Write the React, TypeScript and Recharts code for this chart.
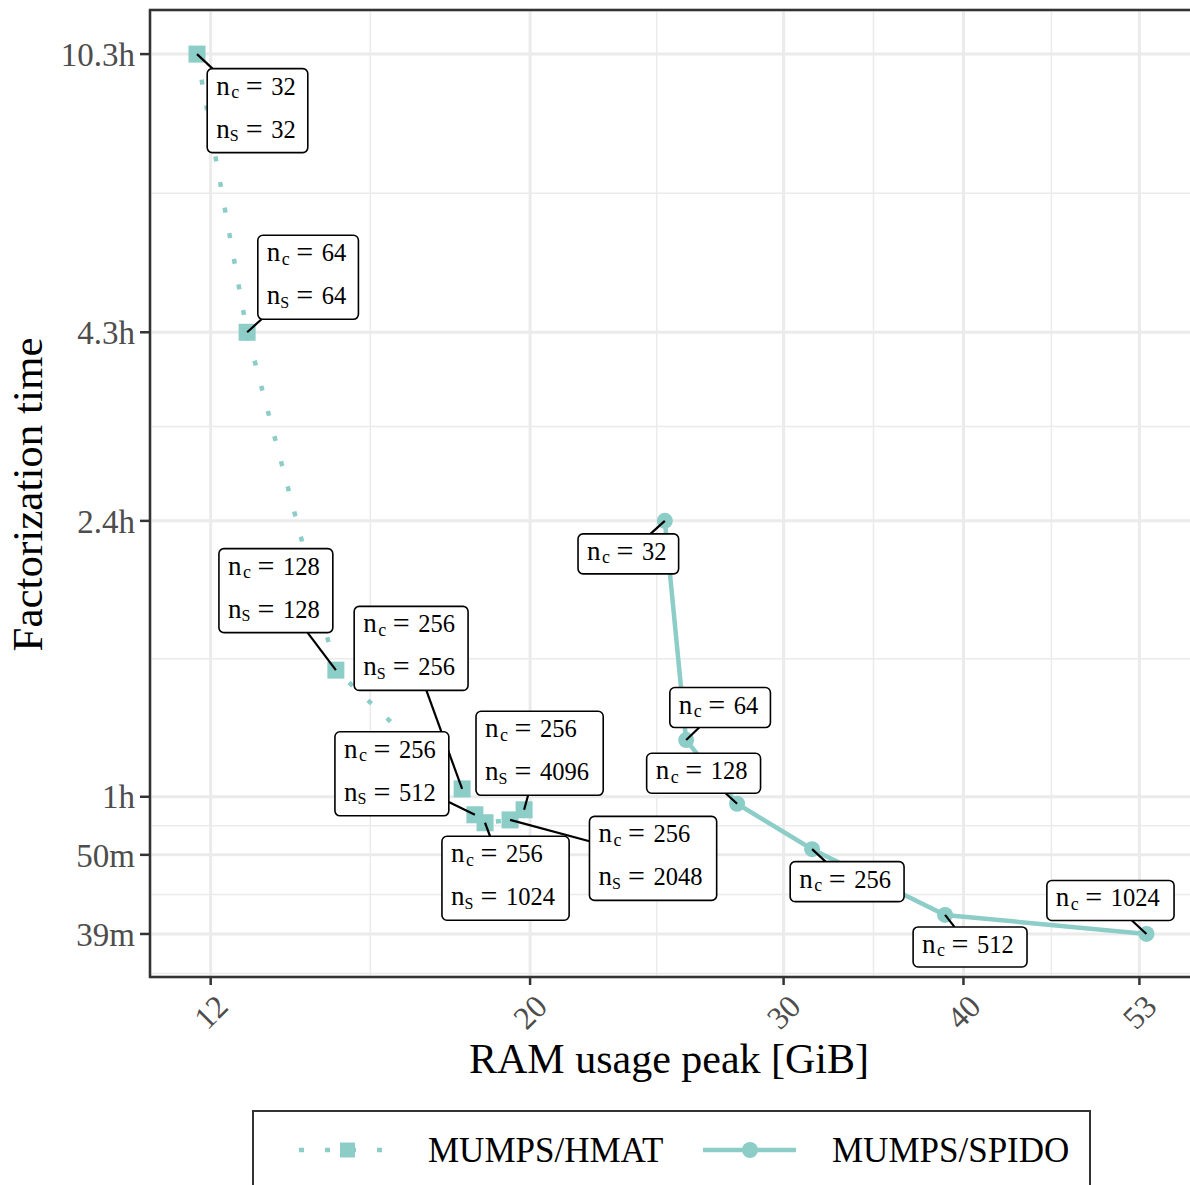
import React from "react";
import {
  LineChart,
  Line,
  XAxis,
  YAxis,
  CartesianGrid,
  ReferenceArea,
  ReferenceLine,
  LabelList,
  Legend,
  Label,
} from "recharts";

const TEAL = "#8CCDC8";
const FONT = '"Liberation Serif", "Times New Roman", serif';

// MUMPS/HMAT runs: RAM peak (GiB), factorization time (minutes)
const hmatRam = [11.74, 12.72, 14.66, 17.94, 18.31, 18.61, 19.37, 19.81];
const hmatTime = [618, 258, 89.3, 61.5, 56.7, 55.3, 55.8, 57.6];
const hmatNc = [32, 64, 128, 256, 256, 256, 256, 256];
const hmatNs = [32, 64, 128, 256, 512, 1024, 2048, 4096];

// MUMPS/SPIDO runs
const spidoRam = [24.81, 25.67, 27.85, 31.4, 38.84, 53.6];
const spidoTime = [142.7, 71.7, 58.7, 50.9, 41.4, 39];
const spidoNc = [32, 64, 128, 256, 512, 1024];

const xTicks = [12, 20, 30, 40, 53];
const xMinor = [15.49, 24.49, 34.64, 46.04];
const yTicks = [39, 50, 60, 142.7, 258, 618];
const yTickLabels = ["39m", "50m", "1h", "2.4h", "4.3h", "10.3h"];
const yMinor = [34.44, 44.16, 54.77, 92.53, 191.9, 399.3];

const xDomain = [10.89, 57.65];
const yDomain = [34.07, 709.8];

// where each label box sits relative to its point (px), repel-style
const hmatLabelOffsets = [
  [60.5, 56.5],
  [61, -55],
  [-60, -79.5],
  [-51, -140.5],
  [-83, -41],
  [20.5, 55.5],
  [143, 38.5],
  [15.5, -56.5],
];
const spidoLabelOffsets = [
  [-36.5, 33],
  [34, -32.5],
  [-33.5, -30.5],
  [35, 32.5],
  [25, 32],
  [-36, -33.5],
];

const hmatData = hmatRam.map((ram, i) => ({ ram, time: hmatTime[i], i }));
const spidoData = spidoRam.map((ram, i) => ({ ram, time: spidoTime[i], i }));

const BoxLabel = (props: any) => {
  const { kind } = props;
  const idx = Number(props.value);
  const vb = props.viewBox || {};
  const px = vb.x ?? props.x;
  const py = vb.y ?? props.y;
  if (px == null || py == null || isNaN(idx)) return null;

  const lines: [string, number][] =
    kind === "hmat"
      ? [
          ["c", hmatNc[idx]],
          ["S", hmatNs[idx]],
        ]
      : [["c", spidoNc[idx]]];
  const off = kind === "hmat" ? hmatLabelOffsets[idx] : spidoLabelOffsets[idx];
  const digits = Math.max(...lines.map((l) => String(l[1]).length));
  const w = 74 + 13.3 * digits;
  const h = 40 + 44 * (lines.length - 1);
  const cx = px + off[0];
  const cy = py + off[1];
  const left = cx - w / 2;
  const top = cy - h / 2;

  // segment from point to the box edge, along the line to the box centre
  const dx = px - cx;
  const dy = py - cy;
  const s = Math.min(
    w / 2 / Math.max(Math.abs(dx), 1e-6),
    h / 2 / Math.max(Math.abs(dy), 1e-6)
  );
  const ex = cx + dx * s;
  const ey = cy + dy * s;
  const txt = { fontFamily: FONT, fill: "#000" };

  return (
    <g>
      {s < 1 && (
        <line x1={px} y1={py} x2={ex} y2={ey} stroke="#000" strokeWidth={2.2} />
      )}
      <rect
        x={left}
        y={top}
        width={w}
        height={h}
        rx={5}
        ry={5}
        fill="#fff"
        stroke="#000"
        strokeWidth={1.6}
      />
      {lines.map(([sub, num], k) => {
        const base = top + 26 + 43 * k;
        const x0 = left + 9;
        return (
          <g key={k}>
            <text x={x0} y={base} fontSize={27} style={txt}>
              n
            </text>
            <text
              x={x0 + (sub === "c" ? 15 : 13.5)}
              y={base + 3.5}
              fontSize={sub === "c" ? 18 : 16}
              style={txt}
            >
              {sub}
            </text>
            <text x={x0 + 29.5} y={base + 1} fontSize={30} style={txt}>
              =
            </text>
            <text x={x0 + 55} y={base} fontSize={24.5} style={txt}>
              {num}
            </text>
          </g>
        );
      })}
    </g>
  );
};

const SquareDot = (props: any) => {
  const { cx, cy, index } = props;
  if (cx == null || cy == null) return <g key={`sq-${index}`} />;
  return (
    <rect key={`sq-${index}`} x={cx - 8.5} y={cy - 8.5} width={17} height={17} fill={TEAL} />
  );
};

const XTick = (props: any) => {
  const { x, y, payload } = props;
  return (
    <text
      transform={`translate(${x},${y + 25}) rotate(-45)`}
      textAnchor="middle"
      dominantBaseline="central"
      fontSize={32}
      fontFamily={FONT}
      fill="#4D4D4D"
    >
      {payload.value}
    </text>
  );
};

const XTitle = (props: any) => {
  const vb = props.viewBox || {};
  return (
    <text
      x={vb.x + vb.width / 2 - 2}
      y={vb.y + 96}
      textAnchor="middle"
      fontSize={42}
      fontFamily={FONT}
      fill="#000"
    >
      RAM usage peak [GiB]
    </text>
  );
};

const YTitle = (props: any) => {
  const vb = props.viewBox || {};
  const cy = vb.y + vb.height / 2 + 1;
  return (
    <text
      transform={`translate(42,${cy}) rotate(-90)`}
      textAnchor="middle"
      fontSize={43}
      fontFamily={FONT}
      fill="#000"
    >
      Factorization time
    </text>
  );
};

const LegendBox = () => (
  <svg width={839} height={90} style={{ display: "block", overflow: "visible" }}>
    <rect x={1} y={1} width={837} height={120} fill="#fff" stroke="#333" strokeWidth={2} />
    <line x1={47} y1={40} x2={131} y2={40} stroke={TEAL} strokeWidth={4.5} strokeDasharray="5 21" />
    <rect x={88} y={32.5} width={15} height={15} fill={TEAL} />
    <text x={176} y={52} fontSize={35} fontFamily={FONT} fill="#000">
      MUMPS/HMAT
    </text>
    <line x1={451} y1={40} x2={544} y2={40} stroke={TEAL} strokeWidth={4.5} />
    <circle cx={498} cy={40} r={8} fill={TEAL} />
    <text x={580} y={52} fontSize={35} fontFamily={FONT} fill="#000">
      MUMPS/SPIDO
    </text>
  </svg>
);

const App: React.FC = () => {
  return (
    <div
      style={{
        position: "absolute",
        left: 0,
        top: 0,
        width: 1190,
        height: 1185,
        overflow: "hidden",
        background: "#fff",
      }}
    >
      <LineChart width={1200} height={1200} margin={{ top: 10, right: 8, bottom: 123, left: 0 }}>
        <CartesianGrid stroke="#EBEBEB" strokeWidth={3} />
        {xMinor.map((v) => (
          <ReferenceLine key={`xm-${v}`} x={v} stroke="#EBEBEB" strokeWidth={1.5} zIndex={-50} />
        ))}
        {yMinor.map((v) => (
          <ReferenceLine key={`ym-${v}`} y={v} stroke="#EBEBEB" strokeWidth={1.5} zIndex={-50} />
        ))}
        <XAxis
          dataKey="ram"
          type="number"
          scale="log"
          domain={xDomain}
          allowDataOverflow
          ticks={xTicks}
          interval={0}
          height={100}
          tickSize={8}
          tickMargin={2}
          axisLine={false}
          tickLine={{ stroke: "#333", strokeWidth: 2.5 }}
          tick={<XTick />}
        >
          <Label content={<XTitle />} />
        </XAxis>
        <YAxis
          dataKey="time"
          type="number"
          scale="log"
          domain={yDomain}
          allowDataOverflow
          ticks={yTicks}
          interval={0}
          width={150}
          tickSize={10}
          tickMargin={5}
          axisLine={false}
          tickLine={{ stroke: "#333", strokeWidth: 2.5 }}
          tick={{ fill: "#4D4D4D", fontSize: 33, fontFamily: FONT }}
          tickFormatter={(v: number) => yTickLabels[yTicks.indexOf(v)] ?? String(v)}
        >
          <Label content={<YTitle />} />
        </YAxis>
        <ReferenceArea
          x1={xDomain[0]}
          x2={xDomain[1]}
          y1={yDomain[0]}
          y2={yDomain[1]}
          fill="none"
          fillOpacity={0}
          stroke="#333"
          strokeWidth={2.5}
          ifOverflow="visible"
        />
        <Line
          data={hmatData}
          dataKey="time"
          name="MUMPS/HMAT"
          type="linear"
          stroke={TEAL}
          strokeWidth={4.5}
          strokeDasharray="5 21"
          dot={(p: any) => <SquareDot key={`sq-${p.index}`} {...p} />}
          activeDot={false}
          isAnimationActive={false}
        >
          <LabelList dataKey="i" content={(p: any) => <BoxLabel {...p} kind="hmat" />} />
        </Line>
        <Line
          data={spidoData}
          dataKey="time"
          name="MUMPS/SPIDO"
          type="linear"
          stroke={TEAL}
          strokeWidth={4.5}
          dot={{ r: 8, fill: TEAL, stroke: "none", strokeWidth: 0 }}
          activeDot={false}
          isAnimationActive={false}
        >
          <LabelList dataKey="i" content={(p: any) => <BoxLabel {...p} kind="spido" />} />
        </Line>
        <Legend
          layout="horizontal"
          verticalAlign="middle"
          align="center"
          wrapperStyle={{ left: 252, top: 1110, width: 839, height: 90 }}
          content={() => <LegendBox />}
        />
      </LineChart>
    </div>
  );
};

export default App;
